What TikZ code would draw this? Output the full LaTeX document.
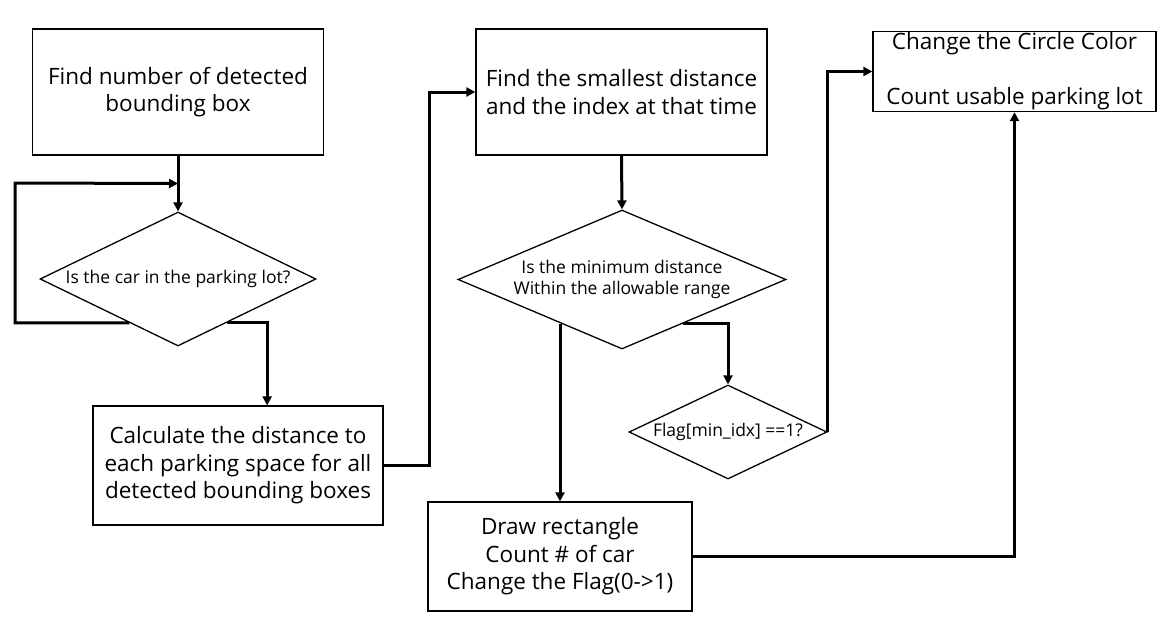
\documentclass[tikz,border=0pt]{standalone}
\usepackage{fontspec}
\setmainfont{Open Sans}
\usetikzlibrary{shapes.geometric,arrows.meta,calc}

\begin{document}
\begin{tikzpicture}[x=1pt, y=-1pt,
    box/.style={draw, line width=1.3pt, align=center, inner sep=0pt, font=\fontsize{22.5}{27.5}\selectfont},
    decision/.style={draw, diamond, line width=1.3pt, align=center, inner sep=0pt, font=\fontsize{17.5}{21}\selectfont},
    flow/.style={line width=3pt, -{Triangle[length=9pt,width=9pt]}}]

    % Fix the canvas
    \useasboundingbox (0,0) rectangle (1170,641);

    % Draw process boxes
    \node[box, minimum width=291pt, minimum height=126pt] (findNum) at (178,92) {Find number of detected\\bounding box};
    \node[box, minimum width=290pt, minimum height=119pt] (calcDist) at (238,465.5) {Calculate the distance to\\each parking space for all\\detected bounding boxes};
    \node[box, minimum width=291pt, minimum height=126pt] (findMin) at (621.5,92) {Find the smallest distance\\and the index at that time};
    \node[box, minimum width=264pt, minimum height=109pt] (drawRect) at (560,556.5) {Draw rectangle\\Count \# of car\\Change the Flag(0->1)};
    \node[box, minimum width=283pt, minimum height=80pt] (changeColour) at (1014.5,71.5) {Change the Circle Color\\[27.5pt]Count usable parking lot};

    % Draw decisions
    \node[decision, aspect=2.06, minimum width=276pt, minimum height=134pt] (carIn) at (178,279) {Is the car in the parking lot?};
    \node[decision, aspect=2.36, minimum width=328pt, minimum height=139pt] (minDist) at (622,279.5) {Is the minimum distance\\Within the allowable range};
    \node[decision, aspect=2.1, minimum width=198pt, minimum height=94pt] (flagCheck) at (728,432) {Flag[min\_idx] ==1?};

    % Exit points on the diamonds
    \coordinate (carLeft) at ($(carIn.south)!0.35!(carIn.west)$);
    \coordinate (carRight) at ($(carIn.south)!0.35!(carIn.east)$);
    \coordinate (minLeft) at ($(minDist.south)!0.37!(minDist.west)$);
    \coordinate (minRight) at ($(minDist.south)!0.37!(minDist.east)$);
    \coordinate (loopTop) at ($(findNum.south)!0.5!(carIn.north)$);
    \coordinate (loopCorner) at (15,183);
    \coordinate (calcIn) at ($(calcDist.north west)!0.6!(calcDist.north east)$);

    % Draw connectors
    \draw[flow] (findNum.south) -- (carIn.north);
    \draw[flow] (carLeft) -| (loopCorner) -- (loopTop);
    \draw[flow] (carRight) -| (calcIn);
    \draw[flow] (calcDist.east) -- ++(46,0) |- (findMin.west);
    \draw[flow] (findMin.south) -- (minDist.north);
    \draw[flow] (minLeft -| drawRect.north) -- (drawRect.north);
    \draw[flow] (minRight) -| (flagCheck.north);
    \draw[flow] (flagCheck.east) |- (changeColour.west);
    \draw[flow] (drawRect.east) -| (changeColour.south);

\end{tikzpicture}
\end{document}
